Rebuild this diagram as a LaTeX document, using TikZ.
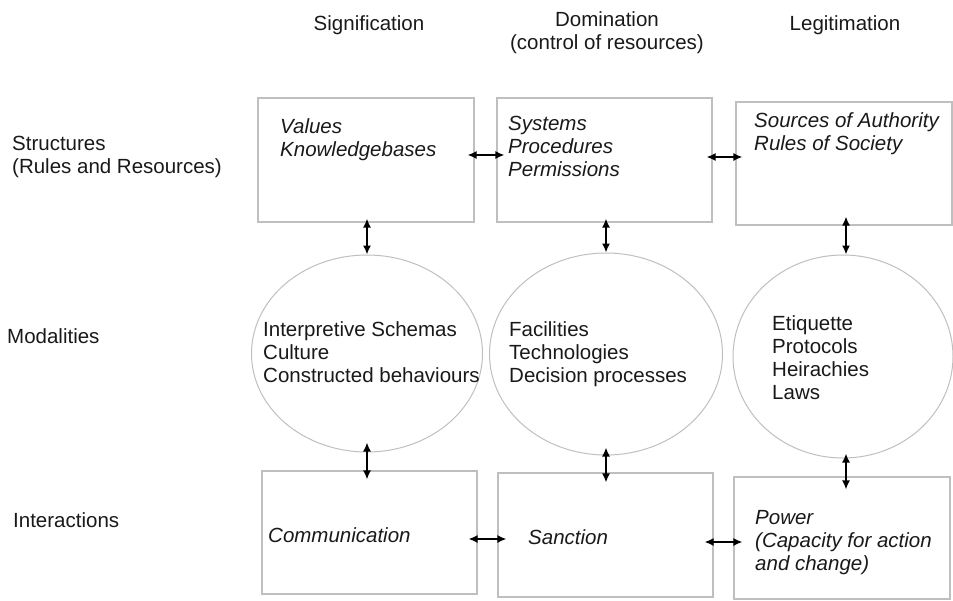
\documentclass[tikz,border=0pt]{standalone}
\usepackage{fontspec}
\setmainfont{Liberation Sans}
\usetikzlibrary{shapes.geometric,arrows.meta}

\begin{document}
\begin{tikzpicture}[
  x=1pt, y=-1pt,
  every node/.style = {font=\fontsize{20.5}{23}\selectfont, text=black!90, inner sep=0pt},
  box/.style = {draw=black!25, line width=1.1pt, rectangle, minimum width=216pt, minimum height=124pt},
  oval/.style = {draw=black!25, line width=1pt, ellipse},
  txt/.style = {align=left, anchor=base west},
  itxt/.style = {txt, font=\fontsize{20.5}{23}\selectfont\itshape},
  hdr/.style = {align=center, anchor=base},
  conn/.style = {{Latex[length=9pt,width=8pt]}-{Latex[length=9pt,width=8pt]}, line width=1.6pt}
]
  \useasboundingbox (0,0) rectangle (953,600);

  % column and row titles (base = last line)
  \node[hdr] (colS) at (369,30) {Signification};
  \node[hdr] (colD) at (607,49) {Domination\\(control of resources)};
  \node[hdr] (colL) at (845,30) {Legitimation};
  \node[txt] (rowS) at (12,173) {Structures\\(Rules and Resources)};
  \node[txt] (rowM) at (7,343) {Modalities};
  \node[txt] (rowI) at (13,527) {Interactions};

  % structures
  \node[box] (sig1) at (366,160) {};
  \node[box, minimum width=215pt] (dom1) at (604.5,160) {};
  \node[box, minimum height=123pt] (leg1) at (844,163.5) {};
  \node[itxt] (sig1t) at (280,156) {Values\\Knowledgebases};
  \node[itxt] (dom1t) at (508,176) {Systems\\Procedures\\Permissions};
  \node[itxt] (leg1t) at (754,150) {Sources of Authority\\Rules of Society};

  % modalities
  \node[oval, minimum width=231pt, minimum height=197pt] (sig2) at (367,353.5) {};
  \node[oval, minimum width=233pt, minimum height=202pt] (dom2) at (606,354) {};
  \node[oval, minimum width=220pt, minimum height=203pt] (leg2) at (843,356.5) {};
  \node[txt] (sig2t) at (263,382) {Interpretive Schemas\\Culture\\Constructed behaviours};
  \node[txt] (dom2t) at (509,382) {Facilities\\Technologies\\Decision processes};
  \node[txt] (leg2t) at (772,399) {Etiquette\\Protocols\\Heirachies\\Laws};

  % interactions
  \node[box, minimum width=215pt, minimum height=123pt] (sig3) at (369.5,532.5) {};
  \node[box, minimum width=215pt] (dom3) at (605.5,535) {};
  \node[box, minimum height=122pt] (leg3) at (842,538) {};
  \node[itxt] (sig3t) at (268,542) {Communication};
  \node[itxt] (dom3t) at (528,544) {Sanction};
  \node[itxt] (leg3t) at (755,570) {Power\\(Capacity for action\\and change)};

  % across
  \draw[conn, shorten <=-7pt, shorten >=-8pt] ([yshift=5pt]sig1.east) -- ([yshift=5pt]dom1.west);
  \draw[conn, shorten <=-6pt, shorten >=-7pt] ([yshift=3pt]dom1.east) -- ([yshift=6.5pt]leg1.west);
  \draw[conn, shorten <=-9pt, shorten >=-9pt] ([yshift=-6.5pt]sig3.east) -- ([yshift=-4pt]dom3.west);
  \draw[conn, shorten <=-9pt, shorten >=-9pt] ([yshift=-7pt]dom3.east) -- ([yshift=-4pt]leg3.west);

  % down
  \draw[conn, shorten <=-4pt] ([xshift=1pt]sig1.south) -- (sig2.north);
  \draw[conn, shorten <=-10pt, shorten >=-9pt] (sig2.south) -- ([xshift=-2.5pt]sig3.north);
  \draw[conn, shorten <=-4pt] ([xshift=1.5pt]dom1.south) -- (dom2.north);
  \draw[conn, shorten <=-8pt, shorten >=-10pt] (dom2.south) -- ([xshift=0.5pt]dom3.north);
  \draw[conn, shorten <=-9pt] ([xshift=2pt]leg1.south) -- ([xshift=3pt]leg2.north);
  \draw[conn, shorten <=-5pt, shorten >=-13pt] ([xshift=3pt]leg2.south) -- ([xshift=4pt]leg3.north);
\end{tikzpicture}
\end{document}
